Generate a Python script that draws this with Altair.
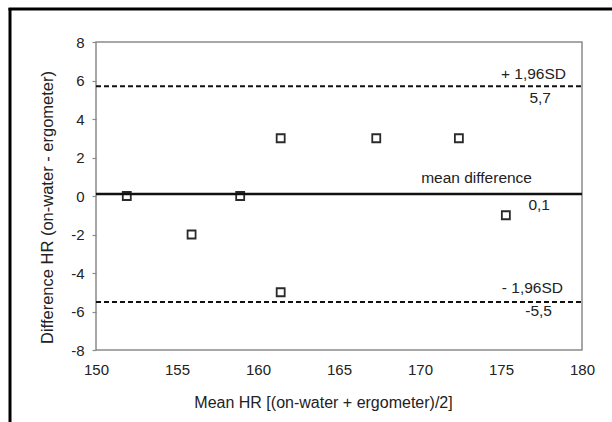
import altair as alt
import pandas as pd

# Data
mean_hr = [151.9, 155.9, 158.9, 161.4, 161.4, 167.3, 172.4, 175.3]
diff_hr = [0, -2, 0, 3, -5, 3, 3, -1]

upper_loa = 5.7
mean_diff = 0.1
lower_loa = -5.5

x_ticks = [150, 155, 160, 165, 170, 175, 180]
y_ticks = [-8, -6, -4, -2, 0, 2, 4, 6, 8]

x_title = "Mean HR [(on-water + ergometer)/2]"
y_title = "Difference HR (on-water - ergometer)"

FONT = "Liberation Sans, Arial, sans-serif"
TXT = "#222222"

pts = pd.DataFrame({"x": mean_hr, "y": diff_hr})

xs = alt.Scale(domain=[150, 180], nice=False, zero=False)
ys = alt.Scale(domain=[-8, 8], nice=False, zero=False)

x_axis = alt.Axis(values=x_ticks, ticks=False, domain=False, grid=False,
                  labelOverlap=False, labelFlush=False,
                  labelFont=FONT, labelFontSize=15, labelColor=TXT, labelPadding=12,
                  title=x_title, titleFont=FONT, titleFontSize=16, titleFontWeight="normal",
                  titleColor=TXT, titleX=227, titleY=52, titleAlign="center",
                  titleBaseline="middle")
y_axis = alt.Axis(values=y_ticks, tickCount=9, ticks=True, tickSize=4, tickColor="#8a8a8a",
                  tickWidth=1.2, domain=False, grid=False, labelExpr="'' + datum.value",
                  labelOverlap=False, labelFlush=False,
                  labelFont=FONT, labelFontSize=15, labelColor=TXT, labelPadding=8,
                  title=y_title, titleFont=FONT, titleFontSize=16.5, titleFontWeight="normal",
                  titleColor=TXT, titleX=-49, titleY=165, titleAngle=270,
                  titleAlign="center", titleBaseline="middle")

X = lambda f: alt.X(f, scale=xs, axis=x_axis)
Y = lambda f: alt.Y(f, scale=ys, axis=y_axis)

points = alt.Chart(pts).mark_point(shape="square", filled=False, size=64,
                                   stroke="#2a2a2a", strokeWidth=1.8, opacity=1).encode(
    x=X("x:Q"), y=Y("y:Q"))

def hline(val, dash, width):
    d = pd.DataFrame({"y": [val]})
    kw = {"strokeDash": dash} if dash else {}
    return alt.Chart(d).mark_rule(color="#111111", strokeWidth=width, **kw).encode(
        y=Y("y:Q"), x=alt.value(0), x2=alt.value(486))

def label(text, val, dx, dy):
    d = pd.DataFrame({"x": [180], "y": [val], "t": [text]})
    return alt.Chart(d).mark_text(align="right", baseline="alphabetic", dx=dx, dy=dy,
                                  font=FONT, fontSize=15.5, color=TXT).encode(
        x=X("x:Q"), y=Y("y:Q"), text="t:N")

frame_left = alt.Chart(pd.DataFrame({"a": [0]})).mark_rule(color="black", strokeWidth=3).encode(
    x=alt.value(-86), y=alt.value(-34), y2=alt.value(390))
frame_top = alt.Chart(pd.DataFrame({"a": [0]})).mark_rule(color="black", strokeWidth=3).encode(
    x=alt.value(-87.5), x2=alt.value(540), y=alt.value(-33))

chart = alt.layer(
    points,
    hline(upper_loa, [5, 3], 2),
    hline(lower_loa, [5, 3], 2),
    hline(mean_diff, None, 2.5),
    label("+ 1,96SD", upper_loa, -16, -7),
    label("5,7", upper_loa, -31, 17),
    label("mean difference", mean_diff, -50, -11),
    label("0,1", mean_diff, -32, 16),
    label("- 1,96SD", lower_loa, -19, -9),
    label("-5,5", lower_loa, -30, 14),
    frame_left,
    frame_top,
).properties(
    width=486, height=308,
    autosize=alt.AutoSizeParams(type="none"),
    padding={"left": 96, "top": 42, "right": 30, "bottom": 72},
    background="white",
).configure_view(stroke="#8a8a8a", strokeWidth=1.5)

chart.save("out.html", embed_options={"renderer": "svg", "actions": False})
